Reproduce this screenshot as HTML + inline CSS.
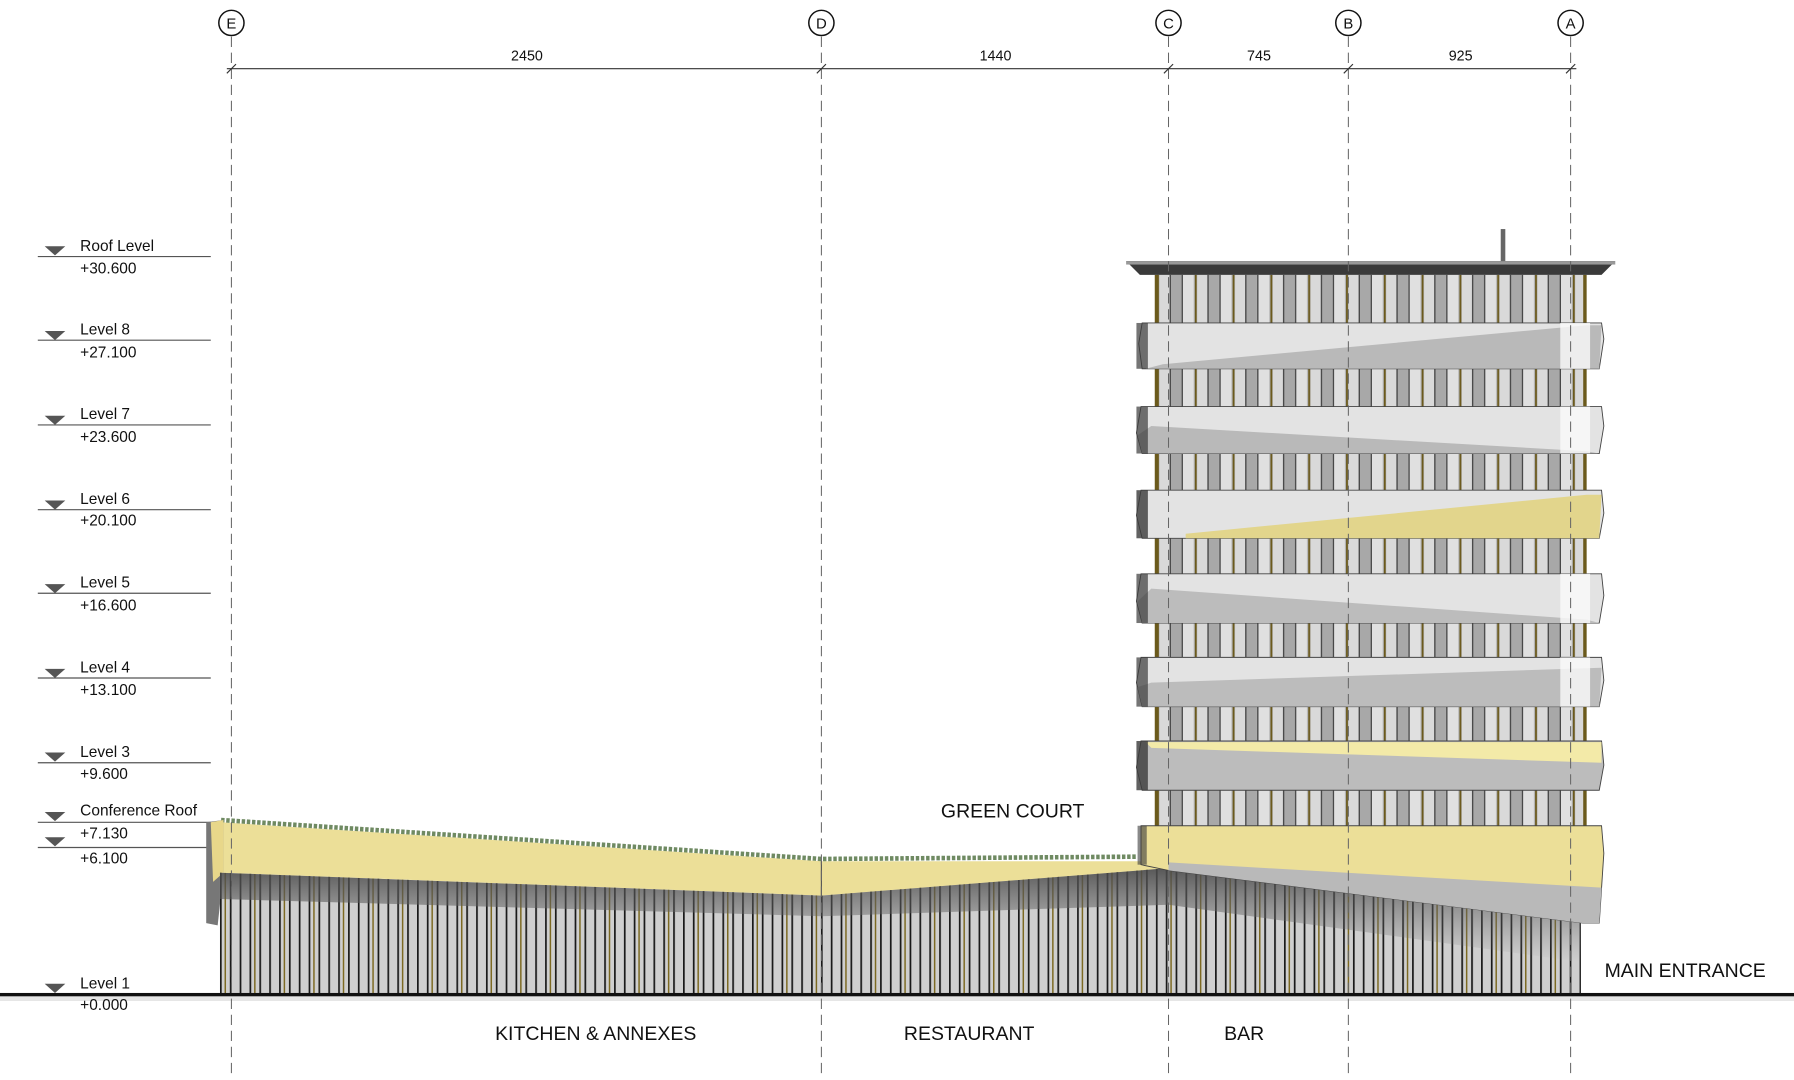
<!DOCTYPE html>
<html><head><meta charset="utf-8"><style>
html,body{margin:0;padding:0;background:#fff;}
svg{display:block;}
text{font-family:"Liberation Sans",sans-serif;fill:#111;}
</style></head><body>
<svg width="1794" height="1080" viewBox="0 0 1566 943" preserveAspectRatio="none" xmlns="http://www.w3.org/2000/svg">
<defs>
<pattern id="win" x="1010" y="0" width="33" height="10" patternUnits="userSpaceOnUse">
<rect width="33" height="10" fill="#b0b0b0"/>
<rect x="2" width="9" height="10" fill="#d9d9d9"/>
<rect x="12" width="9" height="10" fill="#a8a8a8"/>
<rect x="22" width="10" height="10" fill="#e0e0e0"/>
<rect x="0" width="1.6" height="10" fill="#6b5a1c"/>
<rect x="11" width="1" height="10" fill="#333"/>
<rect x="21.5" width="1" height="10" fill="#333"/>
</pattern>
<pattern id="fin" x="192" y="0" width="8.6" height="10" patternUnits="userSpaceOnUse">
<rect width="8.6" height="10" fill="#cfcfcf"/>
<rect x="0" width="1.5" height="10" fill="#1a1a1a"/>
</pattern>
<pattern id="fin2" x="196" y="0" width="25.8" height="10" patternUnits="userSpaceOnUse">
<rect x="0" width="1.3" height="10" fill="#7d6a22"/>
</pattern>
<linearGradient id="shade" x1="0" y1="0" x2="0" y2="1">
<stop offset="0" stop-color="#4a4a4a" stop-opacity="0.9"/>
<stop offset="1" stop-color="#777" stop-opacity="0"/>
</linearGradient>
</defs>

<!-- levels -->
<g stroke="#555" stroke-width="1">
<line x1="33" y1="224" x2="184" y2="224"/>
<line x1="33" y1="297" x2="184" y2="297"/>
<line x1="33" y1="371" x2="184" y2="371"/>
<line x1="33" y1="445" x2="184" y2="445"/>
<line x1="33" y1="518" x2="184" y2="518"/>
<line x1="33" y1="592" x2="184" y2="592"/>
<line x1="33" y1="666" x2="184" y2="666"/>
<line x1="33" y1="718" x2="184" y2="718"/>
<line x1="33" y1="740" x2="184" y2="740"/>
</g>
<g fill="#555">
<polygon points="39,215 57,215 48,223"/>
<polygon points="39,289 57,289 48,297"/>
<polygon points="39,363 57,363 48,371"/>
<polygon points="39,437 57,437 48,445"/>
<polygon points="39,510 57,510 48,518"/>
<polygon points="39,584 57,584 48,592"/>
<polygon points="39,657 57,657 48,665"/>
<polygon points="39,709 57,709 48,717"/>
<polygon points="39,731 57,731 48,739"/>
<polygon points="39,859 57,859 48,867"/>
</g>
<g font-size="13.5">
<text x="70" y="219">Roof Level</text><text x="70" y="239">+30.600</text>
<text x="70" y="292">Level 8</text><text x="70" y="312">+27.100</text>
<text x="70" y="366">Level 7</text><text x="70" y="386">+23.600</text>
<text x="70" y="440">Level 6</text><text x="70" y="459">+20.100</text>
<text x="70" y="513">Level 5</text><text x="70" y="533">+16.600</text>
<text x="70" y="587">Level 4</text><text x="70" y="607">+13.100</text>
<text x="70" y="661">Level 3</text><text x="70" y="680">+9.600</text>
<text x="70" y="712">Conference Roof</text><text x="70" y="732">+7.130</text>
<text x="70" y="754">+6.100</text>
<text x="70" y="863">Level 1</text>
</g>

<!-- low block roof -->
<polygon points="193,718 717,752 995,752 1020,760 717,782 193,762" fill="#ecdf98"/>
<polyline points="193,716 717,750 992,748" fill="none" stroke="#6f8a62" stroke-width="4" stroke-dasharray="3,1.5"/>
<polygon points="180,718 195,716 195,762 190,808 180,806" fill="#777"/>
<polygon points="184,718 195,716 195,762 186,770" fill="#e8d78a"/>
<!-- fins -->
<polygon points="192,762 717,782 1020,758 1380,806 1380,868 192,868" fill="url(#fin)"/>
<polygon points="192,762 717,782 1020,758 1380,806 1380,868 192,868" fill="url(#fin2)"/>
<polygon points="192,762 717,782 1020,758 1380,806 1380,840 1020,790 717,800 192,785" fill="url(#shade)"/>
<line x1="717" y1="752" x2="717" y2="782" stroke="#555"/>

<!-- tower body -->
<rect x="1010" y="240" width="374" height="482" fill="url(#win)"/>
<rect x="1008" y="240" width="3" height="482" fill="#6b5a1c"/>
<rect x="1382" y="240" width="3" height="482" fill="#6b5a1c"/>
<!-- roof cap -->
<polygon points="983,228 1410,228 1398,240 995,240" fill="#3a3a3a"/>
<rect x="983" y="228" width="427" height="3" fill="#999"/>
<rect x="1310" y="200" width="4" height="28" fill="#666"/>

<!-- bands -->
<g stroke="#444" stroke-width="0.8">
<polygon points="997,282 1398,282 1400,296 1396,322 997,322 994,300" fill="#e3e3e3"/>
<polygon points="1015,318 1385,284 1398,284 1396,322 1000,322" fill="#b9b9b9" stroke="none"/>
<polygon points="996,355 1398,355 1400,372 1396,396 997,396 992,378" fill="#e3e3e3"/>
<polygon points="1005,372 1385,394 1396,396 997,396 993,380" fill="#b9b9b9" stroke="none"/>
<polygon points="996,428 1398,428 1400,448 1396,470 997,470 992,450" fill="#e3e3e3"/>
<polygon points="1035,466 1385,432 1398,432 1396,470 1035,470" fill="#e2d58c" stroke="none"/>
<polygon points="996,501 1398,501 1400,520 1396,544 997,544 992,525" fill="#e3e3e3"/>
<polygon points="1005,514 1385,541 1396,544 997,544 993,525" fill="#bcbcbc" stroke="none"/>
<polygon points="996,574 1398,574 1400,594 1396,617 997,617 992,596" fill="#e3e3e3"/>
<polygon points="1005,596 1398,583 1396,617 997,617 993,600" fill="#bcbcbc" stroke="none"/>
<polygon points="996,647 1398,647 1400,668 1396,690 997,690 992,670" fill="#bcbcbc"/>
<polygon points="1000,648 1398,648 1398,666 1005,653" fill="#f3eaa8" stroke="none"/>
<polygon points="996,721 1398,721 1400,745 1396,806 1382,806 1020,760 996,755" fill="#ecdf98"/>
<polygon points="1020,753 1398,775 1396,806 1382,806 1020,760" fill="#b9b9b9" stroke="none"/>
</g>
<g fill="#3a3a3a">
<rect x="992" y="282" width="10" height="40" opacity="0.7"/>
<rect x="992" y="355" width="10" height="41" opacity="0.7"/>
<rect x="992" y="428" width="10" height="42" opacity="0.8"/>
<rect x="992" y="501" width="10" height="43" opacity="0.7"/>
<rect x="992" y="574" width="10" height="43" opacity="0.7"/>
<rect x="992" y="647" width="10" height="43" opacity="0.8"/>
<rect x="993" y="721" width="8" height="34" opacity="0.6"/>
</g>
<g fill="#fafafa" opacity="0.8">
<rect x="1362" y="282" width="26" height="40"/><rect x="1362" y="355" width="26" height="41"/>
<rect x="1362" y="501" width="26" height="43"/><rect x="1362" y="574" width="26" height="43"/>
</g>

<!-- ground -->
<rect x="0" y="867" width="1566" height="3" fill="#111"/>
<rect x="0" y="870" width="1566" height="4" fill="#e6e6e6"/>
<text x="70" y="882" font-size="13.5">+0.000</text>

<!-- grids -->
<g stroke="#666" stroke-width="0.9" stroke-dasharray="9,5">
<line x1="202" y1="32" x2="202" y2="940"/>
<line x1="717" y1="32" x2="717" y2="940"/>
<line x1="1020" y1="32" x2="1020" y2="940"/>
<line x1="1177" y1="32" x2="1177" y2="940"/>
<line x1="1371" y1="32" x2="1371" y2="940"/>
</g>
<g stroke="#111" stroke-width="1.3" fill="#fff">
<circle cx="202" cy="20" r="11"/><circle cx="717" cy="20" r="11"/><circle cx="1020" cy="20" r="11"/><circle cx="1177" cy="20" r="11"/><circle cx="1371" cy="20" r="11"/>
</g>
<g font-size="13" text-anchor="middle">
<text x="202" y="25">E</text><text x="717" y="25">D</text><text x="1020" y="25">C</text><text x="1177" y="25">B</text><text x="1371" y="25">A</text>
</g>
<line x1="198" y1="60" x2="1376" y2="60" stroke="#333" stroke-width="1"/>
<g stroke="#333" stroke-width="1">
<line x1="198" y1="64" x2="206" y2="56"/><line x1="713" y1="64" x2="721" y2="56"/><line x1="1016" y1="64" x2="1024" y2="56"/><line x1="1173" y1="64" x2="1181" y2="56"/><line x1="1367" y1="64" x2="1375" y2="56"/>
</g>
<g font-size="12.5" text-anchor="middle">
<text x="460" y="53">2450</text><text x="869" y="53">1440</text><text x="1099" y="53">745</text><text x="1275" y="53">925</text>
</g>

<g font-size="17" text-anchor="middle">
<text x="884" y="714">GREEN COURT</text>
<text x="1471" y="853">MAIN ENTRANCE</text>
<text x="520" y="908">KITCHEN &amp; ANNEXES</text>
<text x="846" y="908">RESTAURANT</text>
<text x="1086" y="908">BAR</text>
</g>
</svg>
</body></html>
